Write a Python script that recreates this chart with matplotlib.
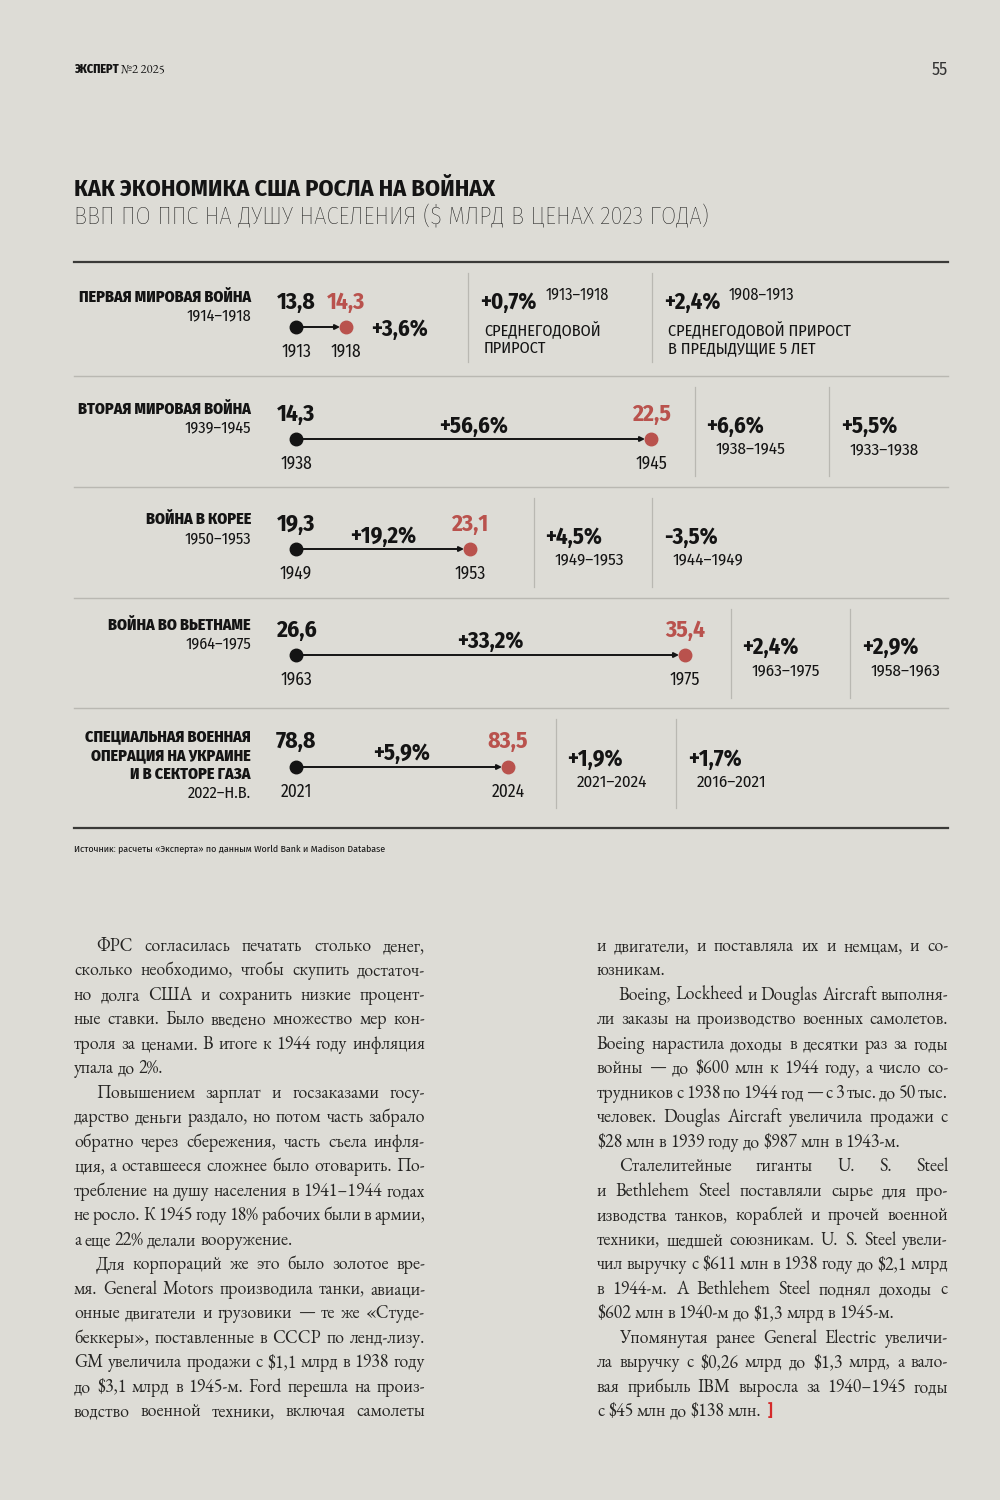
import matplotlib
matplotlib.use("Agg")
import matplotlib.pyplot as plt
from matplotlib import font_manager as fm

# ---------------- data ----------------
wars = ["ПЕРВАЯ МИРОВАЯ ВОЙНА", "ВТОРАЯ МИРОВАЯ ВОЙНА", "ВОЙНА В КОРЕЕ",
        "ВОЙНА ВО ВЬЕТНАМЕ", "СПЕЦИАЛЬНАЯ ВОЕННАЯ\nОПЕРАЦИЯ НА УКРАИНЕ\nИ В СЕКТОРЕ ГАЗА"]
war_years = ["1914–1918", "1939–1945", "1950–1953", "1964–1975", "2022–Н.В."]
start_years = ["1913", "1938", "1949", "1963", "2021"]
end_years = ["1918", "1945", "1953", "1975", "2024"]
start_vals = [13.8, 14.3, 19.3, 26.6, 78.8]
end_vals = [14.3, 22.5, 23.1, 35.4, 83.5]
total_growth = [3.6, 56.6, 19.2, 33.2, 5.9]
avg_growth = [0.7, 6.6, 4.5, 2.4, 1.9]
avg_periods = ["1913–1918", "1938–1945", "1949–1953", "1963–1975", "2021–2024"]
prev_growth = [2.4, 5.5, -3.5, 2.9, 1.7]
prev_periods = ["1908–1913", "1933–1938", "1944–1949", "1958–1963", "2016–2021"]

title = "КАК ЭКОНОМИКА США РОСЛА НА ВОЙНАХ"
subtitle = "ВВП ПО ППС НА ДУШУ НАСЕЛЕНИЯ ($ МЛРД В ЦЕНАХ 2023 ГОДА)"
source = "Источник: расчеты «Эксперта» по данным World Bank и Madison Database"

left_col = [
    ("ФРС согласилась печатать столько денег,", "i"),
    ("сколько необходимо, чтобы скупить достаточ-", ""),
    ("но долга США и сохранить низкие процент-", ""),
    ("ные ставки. Было введено множество мер кон-", ""),
    ("троля за ценами. В итоге к 1944 году инфляция", ""),
    ("упала до 2%.", "e"),
    ("Повышением зарплат и госзаказами госу-", "i"),
    ("дарство деньги раздало, но потом часть забрало", ""),
    ("обратно через сбережения, часть съела инфля-", ""),
    ("ция, а оставшееся сложнее было отоварить. По-", ""),
    ("требление на душу населения в 1941–1944 годах", ""),
    ("не росло. К 1945 году 18% рабочих были в армии,", ""),
    ("а еще 22% делали вооружение.", "e"),
    ("Для корпораций же это было золотое вре-", "i"),
    ("мя. General Motors производила танки, авиаци-", ""),
    ("онные двигатели и грузовики — те же «Студе-", ""),
    ("беккеры», поставленные в СССР по ленд-лизу.", ""),
    ("GM увеличила продажи с $1,1 млрд в 1938 году", ""),
    ("до $3,1 млрд в 1945-м. Ford перешла на произ-", ""),
    ("водство военной техники, включая самолеты", ""),
]
right_col = [
    ("и двигатели, и поставляла их и немцам, и со-", ""),
    ("юзникам.", "e"),
    ("Boeing, Lockheed и Douglas Aircraft выполня-", "i"),
    ("ли заказы на производство военных самолетов.", ""),
    ("Boeing нарастила доходы в десятки раз за годы", ""),
    ("войны — до $600 млн к 1944 году, а число со-", ""),
    ("трудников с 1938 по 1944 год — с 3 тыс. до 50 тыс.", ""),
    ("человек. Douglas Aircraft увеличила продажи с", ""),
    ("$28 млн в 1939 году до $987 млн в 1943-м.", "e"),
    ("Сталелитейные гиганты U. S. Steel", "i"),
    ("и Bethlehem Steel поставляли сырье для про-", ""),
    ("изводства танков, кораблей и прочей военной", ""),
    ("техники, шедшей союзникам. U. S. Steel увели-", ""),
    ("чил выручку с $611 млн в 1938 году до $2,1 млрд", ""),
    ("в 1944-м. A Bethlehem Steel поднял доходы с", ""),
    ("$602 млн в 1940-м до $1,3 млрд в 1945-м.", "e"),
    ("Упомянутая ранее General Electric увеличи-", "i"),
    ("ла выручку с $0,26 млрд до $1,3 млрд, а вало-", ""),
    ("вая прибыль IBM выросла за 1940–1945 годы", ""),
    ("с $45 млн до $138 млн.", "e"),
]

# ---------------- style ----------------
BG = "#dddcd6"
INK = "#141414"
RED = "#b9524d"
BODY = "#262523"
GRID = "#b9b8b2"

avail = set(f.name for f in fm.fontManager.ttflist)
def fams(cands):
    out = [c for c in cands if c in avail]
    return out + ["DejaVu Sans"]
SANS = fams(["Fira Sans Condensed", "Roboto Condensed", "PT Sans Narrow",
             "Liberation Sans Narrow", "DejaVu Sans Condensed"])
SERIF = fams(["EB Garamond", "Cormorant Garamond", "Cormorant", "Liberation Serif"])
BW = "medium"

fig = plt.figure(figsize=(10, 15), dpi=100)
fig.patch.set_facecolor(BG)
ax = fig.add_axes([0, 0, 1, 1])
ax.set_xlim(0, 1000)
ax.set_ylim(1500, 0)
ax.axis("off")
ax.set_facecolor(BG)
R = fig.canvas.get_renderer()

def width(s, size, fam, weight):
    t = ax.text(0, 0, s, fontsize=size, family=fam, weight=weight)
    w = t.get_window_extent(R).width
    t.remove()
    return w

def fit(s, target, fam, weight="normal"):
    return 20 * target / width(s, 20, fam, weight)

def put(x, y, s, size, fam=SANS, weight="normal", color=INK, ha="left"):
    return ax.text(x, y, s, fontsize=size, family=fam, weight=weight, color=color,
                   ha=ha, va="center_baseline")

fmt = lambda v: f"{v:.1f}".replace(".", ",")
pct = lambda v: ("+" if v > 0 else "") + fmt(v) + "%"

# sizes calibrated on reference text widths
s_title = fit(title, 421, SANS, "bold")
s_sub = fit(subtitle, 634, SANS, "light")
s_lab = fit(wars[0], 172, SANS, "heavy")
s_laby = fit(war_years[0], 65, SANS)
s_val = fit("13,8", 39, SANS, "bold")
s_gr = fit("+56,6%", 69, SANS, "bold")
s_per = fit("1938–1945", 70, SANS)
s_caps = fit("СРЕДНЕГОДОВОЙ ПРИРОСТ", 183, SANS)
s_sup = fit("1913–1918", 64, SANS)
s_yr = fit("1913", 30, SANS)
s_src = fit(source, 311, SANS)
s_hdr = fit("ЭКСПЕРТ", 45, SANS, "heavy")
s_body = fit("а еще 22% делали вооружение.", 225, SERIF, BW) * 0.97

# ---------------- header ----------------
put(74, 68, "ЭКСПЕРТ", s_hdr, weight="heavy")
put(121, 68, "№2 2025", s_hdr * 1.05, fam=SERIF)
put(948, 68, "55", s_hdr * 1.45, fam=SANS, weight="normal", ha="right", color="#333333")

put(74, 186, title, s_title, weight="bold")
put(74, 214, subtitle, s_sub, weight="light")

# rules
ax.plot([74, 948], [262, 262], color="#3a3a38", lw=1.6)
ax.plot([74, 948], [828, 828], color="#3a3a38", lw=1.6)
for yy in [376, 487, 598, 708]:
    ax.plot([74, 948], [yy, yy], color=GRID, lw=1.0)

# ---------------- rows (layout) ----------------
label_y = [296, 408, 518, 624, 735]
dot_y = [327, 439, 549, 655, 767]
x0 = 296
end_x = [346, 651, 470, 685, 508]
gr_y = [327, 424, 534, 639, 751]
block_y = [300, 424, 535, 645, 757]
sep1 = [468, 695, 534, 731, 556]
sep2 = [652, 829, 652, 850, 676]
row_top = [262, 376, 487, 598, 708]

for i in range(5):
    # war label
    lines = wars[i].split("\n")
    for k, ln in enumerate(lines):
        put(251, label_y[i] + 19 * k, ln, s_lab, weight="heavy", ha="right")
    put(251, label_y[i] + 19 * len(lines), war_years[i], s_laby, ha="right")

    # dumbbell
    ax.annotate("", xy=(end_x[i] - 6, dot_y[i]), xytext=(x0, dot_y[i]),
                arrowprops=dict(arrowstyle="-|>", color=INK, lw=1.4,
                                mutation_scale=7, shrinkA=0, shrinkB=0))
    ax.plot([x0], [dot_y[i]], "o", color=INK, ms=9, zorder=5)
    ax.plot([end_x[i]], [dot_y[i]], "o", color=RED, ms=9, zorder=5)
    put(x0, label_y[i] + 4, fmt(start_vals[i]), s_val, weight="bold", ha="center")
    put(end_x[i], label_y[i] + 4, fmt(end_vals[i]), s_val, weight="bold", color=RED, ha="center")
    put(x0, dot_y[i] + 23, start_years[i], s_yr, ha="center")
    put(end_x[i], dot_y[i] + 23, end_years[i], s_yr, ha="center")
    if i == 0:
        put(371, gr_y[i], pct(total_growth[i]), s_gr, weight="bold")
    else:
        put((x0 + end_x[i]) / 2, gr_y[i], pct(total_growth[i]), s_gr, weight="bold", ha="center")

    # vertical separators
    for sx in (sep1[i], sep2[i]):
        ax.plot([sx, sx], [row_top[i] + 11, row_top[i] + 100], color=GRID, lw=0.9)

    if i == 0:
        put(480, block_y[i], pct(avg_growth[i]), s_gr, weight="bold")
        put(546, block_y[i] - 6, avg_periods[i], s_sup)
        put(484, 329, "СРЕДНЕГОДОВОЙ", s_caps)
        put(484, 347, "ПРИРОСТ", s_caps)
        put(664, block_y[i], pct(prev_growth[i]), s_gr, weight="bold")
        put(729, block_y[i] - 6, prev_periods[i], s_sup)
        put(668, 329, "СРЕДНЕГОДОВОЙ ПРИРОСТ", s_caps)
        put(668, 347, "В ПРЕДЫДУЩИЕ 5 ЛЕТ", s_caps)
    else:
        put(sep1[i] + 11, block_y[i], pct(avg_growth[i]), s_gr, weight="bold")
        put(sep1[i] + 21, block_y[i] + 24, avg_periods[i], s_per)
        put(sep2[i] + 12, block_y[i], pct(prev_growth[i]), s_gr, weight="bold")
        put(sep2[i] + 21, block_y[i] + 24, prev_periods[i], s_per)

put(74, 848, source, s_src)

# ---------------- body text (justified) ----------------
space_w = width("x x", s_body, SERIF, BW) - width("xx", s_body, SERIF, BW)

def column(lines, xl, xr, y0, dy=24.5, indent=22):
    last = None
    for j, (ln, flag) in enumerate(lines):
        y = y0 + j * dy
        xs = xl + (indent if flag == "i" else 0)
        words = ln.split(" ")
        ws = [width(w, s_body, SERIF, BW) for w in words]
        if flag == "e" or len(words) == 1:
            gap = space_w
        else:
            gap = (xr - xs - sum(ws)) / (len(words) - 1)
        x = xs
        for w, ww in zip(words, ws):
            ax.text(x, y, w, fontsize=s_body, family=SERIF, weight=BW,
                    color=BODY, ha="left", va="center_baseline")
            x += ww + gap
        last = (x - gap, y)
    return last

column(left_col, 74, 425, 944)
end = column(right_col, 597, 948, 944)
put(end[0] + 6, end[1], "]", s_body * 0.85, weight="bold", color="#d42a2a")

fig.savefig("out.png", dpi=100, facecolor=BG)
